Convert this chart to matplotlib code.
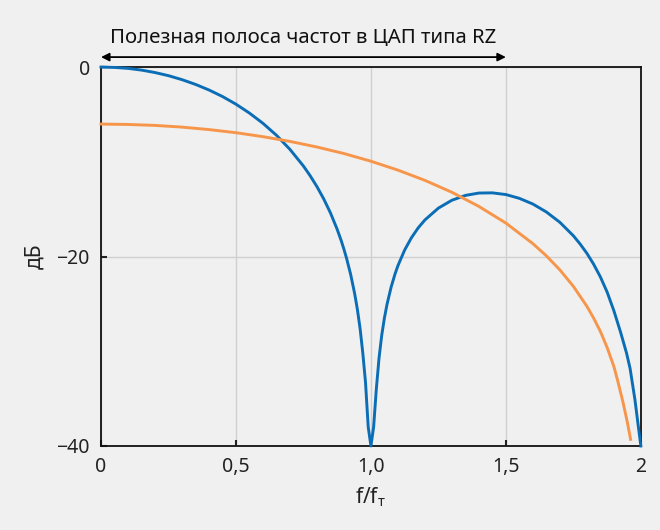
import matplotlib
matplotlib.use("Agg")
import matplotlib.pyplot as plt

plt.rcParams['font.family'] = ['Noto Sans', 'DejaVu Sans']

# Blue curve: NRZ DAC response (dB)
x_nrz = [0.0, 0.05, 0.1, 0.15, 0.2, 0.25, 0.3, 0.35, 0.4, 0.45, 0.5, 0.55, 0.6, 0.65, 0.7, 0.75,
         0.775, 0.8, 0.825, 0.85, 0.875, 0.89, 0.9, 0.91, 0.925, 0.94, 0.95, 0.96, 0.97, 0.98,
         0.99, 1.0, 1.01, 1.02, 1.03, 1.04, 1.05, 1.06, 1.075, 1.09, 1.1, 1.125, 1.15, 1.175,
         1.2, 1.25, 1.3, 1.35, 1.4, 1.45, 1.5, 1.55, 1.6, 1.65, 1.7, 1.75, 1.775, 1.8, 1.825,
         1.85, 1.875, 1.9, 1.925, 1.947, 1.96, 1.978, 1.99, 2.0]
y_nrz = [0.0, -0.04, -0.14, -0.32, -0.58, -0.91, -1.33, -1.83, -2.42, -3.11, -3.92, -4.86, -5.94,
         -7.20, -8.69, -10.45, -11.48, -12.62, -13.91, -15.39, -17.13, -18.33, -19.23, -20.21,
         -21.90, -23.95, -25.61, -27.63, -30.21, -33.3, -38.0, -40.0, -38.0, -34.0, -30.73,
         -28.32, -26.48, -25.0, -23.21, -21.78, -20.97, -19.31, -18.02, -16.98, -16.14, -14.89,
         -14.06, -13.55, -13.30, -13.28, -13.46, -13.86, -14.46, -15.30, -16.39, -17.81, -18.68,
         -19.66, -20.81, -22.15, -23.75, -25.72, -28.0, -30.2, -31.8, -35.1, -37.8, -40.0]

# Orange curve: RZ DAC response (dB)
x_rz = [0.0, 0.1, 0.2, 0.3, 0.4, 0.5, 0.6, 0.7, 0.8, 0.9, 1.0, 1.1, 1.2, 1.3, 1.4, 1.5, 1.6, 1.65,
        1.7, 1.75, 1.8, 1.825, 1.85, 1.875, 1.9, 1.915, 1.934, 1.95, 1.962]
y_rz = [-6.02, -6.06, -6.16, -6.34, -6.60, -6.93, -7.35, -7.85, -8.44, -9.13, -9.94, -10.88,
        -11.96, -13.22, -14.71, -16.47, -18.64, -19.93, -21.41, -23.15, -25.25, -26.5, -27.9,
        -29.6, -31.6, -33.2, -35.4, -37.5, -39.3]

x_ticks = [0, 0.5, 1.0, 1.5, 2]
x_tick_labels = ['0', '0,5', '1,0', '1,5', '2']
y_ticks = [0, -20, -40]
y_tick_labels = ['0', '\u221220', '\u221240']

band_label = 'Полезная полоса частот в ЦАП типа RZ'
band_range = [0.0, 1.5]

bg = '#f0f0f0'
fig = plt.figure(figsize=(6.6, 5.3), dpi=100, facecolor=bg)
ax = fig.add_axes([0.153, 0.1585, 0.818, 0.715])
ax.set_facecolor(bg)

ax.plot(x_nrz, y_nrz, color='#0a6db5', lw=2.1, clip_on=False, zorder=3,
        solid_joinstyle='round')
ax.plot(x_rz, y_rz, color='#f7964a', lw=2.1, clip_on=False, zorder=3,
        solid_joinstyle='round')

ax.set_xlim(0, 2)
ax.set_ylim(-40, 0)
ax.set_xticks(x_ticks)
ax.set_xticklabels(x_tick_labels)
ax.set_yticks(y_ticks)
ax.set_yticklabels(y_tick_labels)
ax.tick_params(direction='in', length=4, width=1.5, labelsize=14, colors='#222222', pad=8)
ax.grid(True, color='#d0d0d0', lw=1)
ax.set_axisbelow(True)
for s in ax.spines.values():
    s.set_linewidth(1.3)
    s.set_color('#111111')

ax.set_xlabel('f/f$_\\mathregular{т}$', fontsize=15, color='#222222', labelpad=6)
ax.set_ylabel('дБ', fontsize=15, color='#222222', labelpad=8)

ax.annotate('', xy=(band_range[0], 1.05), xytext=(band_range[1], 1.05),
            xycoords='data', textcoords='data', annotation_clip=False,
            arrowprops=dict(arrowstyle='<|-|>', color='black', lw=1.3,
                            mutation_scale=12, shrinkA=0, shrinkB=0))
ax.text(sum(band_range) / 2, 3.1, band_label, ha='center', va='center', fontsize=14.7,
        color='#111111', clip_on=False)

fig.savefig('out.png', dpi=100, facecolor=bg)
